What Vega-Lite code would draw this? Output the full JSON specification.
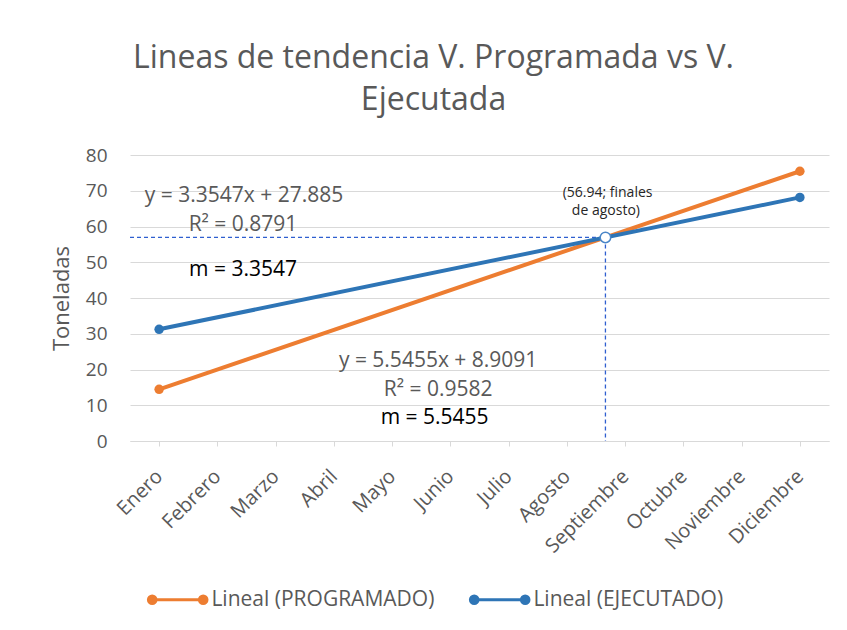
{
  "$schema": "https://vega.github.io/schema/vega-lite/v6.json",
  "width": 699,
  "height": 286,
  "autosize": "none",
  "padding": {"left": 130, "top": 155, "right": 18, "bottom": 189},
  "background": "white",
  "config": {"font": "Open Sans", "view": {"stroke": null}},
  "title": {
    "text": ["Lineas de tendencia V. Programada vs V.", "Ejecutada"],
    "fontSize": 32,
    "fontWeight": "normal",
    "color": "#595959",
    "anchor": "middle",
    "dx": -46,
    "offset": 29,
    "lineHeight": 42
  },
  "datasets": {
    "lines": [
      {"x": 1, "y": 14.45, "serie": "Lineal (PROGRAMADO)"},
      {"x": 12, "y": 75.45, "serie": "Lineal (PROGRAMADO)"},
      {"x": 1, "y": 31.24, "serie": "Lineal (EJECUTADO)"},
      {"x": 12, "y": 68.14, "serie": "Lineal (EJECUTADO)"}
    ],
    "guides": [
      {"x": 0.5, "y": 56.94, "x2": 8.662, "y2": 56.94},
      {"x": 8.662, "y": 56.94, "x2": 8.662, "y2": 0}
    ],
    "cross": [{"x": 8.662, "y": 56.94}],
    "gray": [
      {"x": 2.457, "y": 68.5, "t": "y = 3.3547x + 27.885"},
      {"x": 2.44, "y": 60.4, "t": "R² = 0.8791"},
      {"x": 5.79, "y": 22.4, "t": "y = 5.5455x + 8.9091"},
      {"x": 5.79, "y": 14.4, "t": "R² = 0.9582"}
    ],
    "black": [
      {"x": 2.44, "y": 47.8, "t": "m = 3.3547"},
      {"x": 5.73, "y": 6.3, "t": "m = 5.5455"}
    ],
    "small": [
      {"x": 8.698, "y": 69.4, "t": "(56.94; finales"},
      {"x": 8.67, "y": 64.3, "t": "de agosto)"}
    ]
  },
  "encoding": {
    "x": {
      "field": "x",
      "type": "quantitative",
      "scale": {"domain": [0.5, 12.5], "nice": false, "zero": false},
      "axis": {
        "title": null,
        "values": [1, 2, 3, 4, 5, 6, 7, 8, 9, 10, 11, 12],
        "labelExpr": "['Enero','Febrero','Marzo','Abril','Mayo','Junio','Julio','Agosto','Septiembre','Octubre','Noviembre','Diciembre'][datum.value - 1]",
        "labelAngle": -45,
        "labelAlign": "right",
        "labelBaseline": "middle",
        "labelFontSize": 20,
        "labelColor": "#595959",
        "labelPadding": 27,
        "labelOverlap": false,
        "labelFlush": false,
        "labelLimit": 0,
        "grid": false,
        "domainColor": "#D9D9D9",
        "domainWidth": 1,
        "tickColor": "#D9D9D9",
        "tickSize": 5
      }
    },
    "y": {
      "field": "y",
      "type": "quantitative",
      "scale": {"domain": [0, 80], "nice": false},
      "axis": {
        "title": "Toneladas",
        "titleFontSize": 22,
        "titleFontWeight": "normal",
        "titleColor": "#595959",
        "titlePadding": 12,
        "values": [0, 10, 20, 30, 40, 50, 60, 70, 80],
        "labelFontSize": 19,
        "labelColor": "#595959",
        "labelPadding": 23,
        "ticks": false,
        "tickSize": 0,
        "domain": false,
        "gridColor": "#D9D9D9",
        "gridWidth": 1
      }
    }
  },
  "layer": [
    {
      "data": {"name": "guides"},
      "mark": {"type": "rule", "stroke": "#2F5FD0", "color": "#2F5FD0", "strokeWidth": 1.3, "strokeDash": [4, 3], "opacity": 1},
      "encoding": {"x2": {"field": "x2"}, "y2": {"field": "y2"}}
    },
    {
      "data": {"name": "lines"},
      "mark": {"type": "line", "strokeWidth": 4},
      "encoding": {
        "color": {
          "field": "serie",
          "type": "nominal",
          "scale": {"domain": ["Lineal (PROGRAMADO)", "Lineal (EJECUTADO)"], "range": ["#ED7D31", "#2E75B6"]},
          "legend": {
            "title": null,
            "orient": "none",
            "legendX": 16.7,
            "legendY": 413.7,
            "direction": "horizontal",
            "columns": 2,
            "symbolType": "M-0.87,0L0.87,0M-1,0a0.13,0.13 0 1,0 0.26,0a0.13,0.13 0 1,0 -0.26,0M0.74,0a0.13,0.13 0 1,0 0.26,0a0.13,0.13 0 1,0 -0.26,0",
            "symbolSize": 3434,
            "symbolStrokeWidth": 3,
            "labelFontSize": 21,
            "labelColor": "#595959",
            "labelOffset": 2.7,
            "labelLimit": 0,
            "columnPadding": 29,
            "encode": {"symbols": {"update": {"fill": {"scale": "color", "field": "value"}}}}
          }
        },
        "order": {"field": "x"}
      }
    },
    {
      "data": {"name": "lines"},
      "mark": {"type": "circle", "size": 90, "opacity": 1},
      "encoding": {
        "color": {"field": "serie", "type": "nominal", "legend": null}
      }
    },
    {
      "data": {"name": "cross"},
      "mark": {"type": "point", "shape": "circle", "size": 110, "filled": false, "fill": "white", "fillOpacity": 1, "stroke": "#4A86C8", "strokeWidth": 1.5, "opacity": 1}
    },
    {
      "data": {"name": "gray"},
      "mark": {"type": "text", "fontSize": 21, "color": "#595959"},
      "encoding": {"text": {"field": "t"}}
    },
    {
      "data": {"name": "black"},
      "mark": {"type": "text", "fontSize": 21, "color": "#000000"},
      "encoding": {"text": {"field": "t"}}
    },
    {
      "data": {"name": "small"},
      "mark": {"type": "text", "fontSize": 14, "color": "#262626"},
      "encoding": {"text": {"field": "t"}}
    }
  ]
}
